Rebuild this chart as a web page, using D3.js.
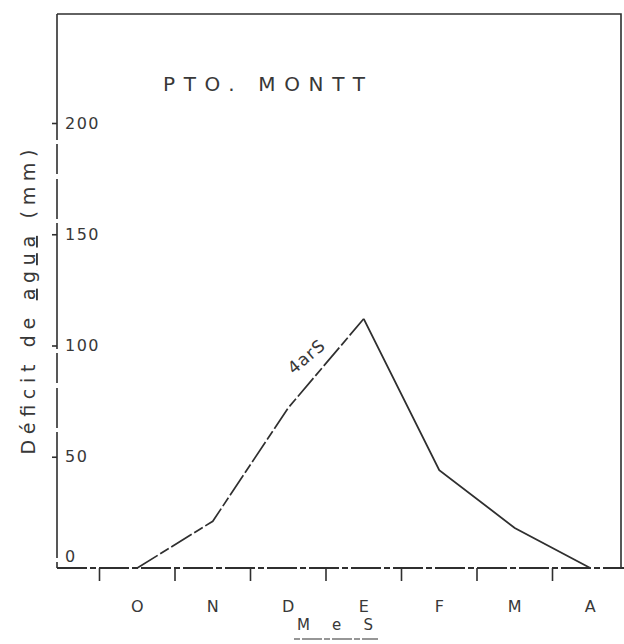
<!DOCTYPE html>
<html>
<head>
<meta charset="utf-8">
<script src="https://cdn.jsdelivr.net/npm/d3@7"></script>
<style>
  body { margin: 0; background: #fff; }
  text { font-family: "DejaVu Sans", sans-serif; fill: #383838; }
</style>
</head>
<body>
<div id="chart"></div>
<script>
// data
const months = ["O", "N", "D", "E", "F", "M", "A"];
const deficit = [0, 21, 72, 112, 44, 18, 0];   // mm
const yTicks = [0, 50, 100, 150, 200];
const title = "PTO. MONTT";
const seriesLabel = "4arS";

const W = 624, H = 644;
const ink = "#2f2f2f";

const svg = d3.select("#chart")
    .append("svg")
    .attr("width", W)
    .attr("height", H);

const x = d3.scaleBand().domain(months).range([99.5, 628]);
const y = d3.scaleLinear().domain([0, 200]).range([568, 123]);
const bw = x.bandwidth();

// frame (top + right)
svg.append("path")
    .attr("d", `M57,14H621V${y(0)}`)
    .attr("fill", "none")
    .attr("stroke", ink)
    .attr("stroke-width", 1.6);

// left axis line, broken like the scan
svg.append("line")
    .attr("x1", 57).attr("x2", 57)
    .attr("y1", 14).attr("y2", y(0))
    .attr("stroke", ink)
    .attr("stroke-width", 1.6)
    .attr("stroke-dasharray", "90,0,36,4,30,5,40,4");

// Y axis ticks + labels (labels sit inside the frame)
const yAxis = svg.append("g")
    .attr("transform", "translate(57,0)")
    .call(d3.axisLeft(y).tickValues(yTicks).tickSize(5).tickFormat(d3.format("d")));
yAxis.select(".domain").remove();
yAxis.selectAll("line").attr("stroke", ink).attr("stroke-width", 1.6)
    .filter(d => d === 0).remove();
yAxis.selectAll("text")
    .attr("x", 8)
    .attr("text-anchor", "start")
    .attr("font-size", 16)
    .attr("letter-spacing", 1.5)
    .attr("fill", "#383838")
    .attr("dy", d => d === 0 ? "-0.4em" : "0.32em");

// baseline (dash-dot)
svg.append("line")
    .attr("x1", 57).attr("x2", 624)
    .attr("y1", y(0)).attr("y2", y(0))
    .attr("stroke", ink)
    .attr("stroke-width", 1.8)
    .attr("stroke-dasharray", "30,3,6,3");

// month boundary ticks
svg.append("g").selectAll("line")
    .data(months)
    .join("line")
    .attr("x1", d => x(d)).attr("x2", d => x(d))
    .attr("y1", y(0)).attr("y2", y(0) + 13)
    .attr("stroke", ink)
    .attr("stroke-width", 1.6);

// month labels
svg.append("g").selectAll("text")
    .data(months)
    .join("text")
    .attr("x", d => x(d) + bw / 2)
    .attr("y", 612)
    .attr("text-anchor", "middle")
    .attr("font-size", 16)
    .text(d => d);

// x axis title, spaced and underlined
svg.append("text")
    .attr("x", 297)
    .attr("y", 630)
    .attr("font-size", 15)
    .attr("textLength", 76)
    .attr("lengthAdjust", "spacing")
    .text("MeS");
svg.append("line")
    .attr("x1", 294).attr("x2", 378)
    .attr("y1", 639).attr("y2", 639)
    .attr("stroke", ink)
    .attr("stroke-width", 1.2)
    .attr("stroke-dasharray", "6,2,20,2");

// y axis title
const yl = svg.append("text")
    .attr("transform", "translate(35,302) rotate(-90)")
    .attr("text-anchor", "middle")
    .attr("font-size", 19)
    .attr("textLength", 305)
    .attr("lengthAdjust", "spacing");
yl.append("tspan").text("Déficit de ");
yl.append("tspan").attr("text-decoration", "underline").text("agua");
yl.append("tspan").text(" (mm)");

// title
svg.append("text")
    .attr("x", 163)
    .attr("y", 91)
    .attr("font-size", 20)
    .attr("textLength", 202)
    .attr("lengthAdjust", "spacing")
    .text(title);

// the curve: dashed while rising, solid after the peak
const pts = months.map((m, i) => ({ m: m, v: deficit[i] }));
const peak = d3.maxIndex(deficit);
const line = d3.line()
    .x(d => x(d.m) + bw / 2)
    .y(d => y(d.v));

svg.append("path")
    .datum(pts.slice(0, peak + 1))
    .attr("d", line)
    .attr("fill", "none")
    .attr("stroke", ink)
    .attr("stroke-width", 1.7)
    .attr("stroke-dasharray", "24,3,10,3");

svg.append("path")
    .datum(pts.slice(peak))
    .attr("d", line)
    .attr("fill", "none")
    .attr("stroke", ink)
    .attr("stroke-width", 1.8);

// series label along the rising line
svg.append("text")
    .attr("transform", `translate(${x("D") + bw / 2 + 22},${y(93)}) rotate(-40)`)
    .attr("text-anchor", "middle")
    .attr("font-size", 17)
    .attr("letter-spacing", 1)
    .text(seriesLabel);
</script>
</body>
</html>
